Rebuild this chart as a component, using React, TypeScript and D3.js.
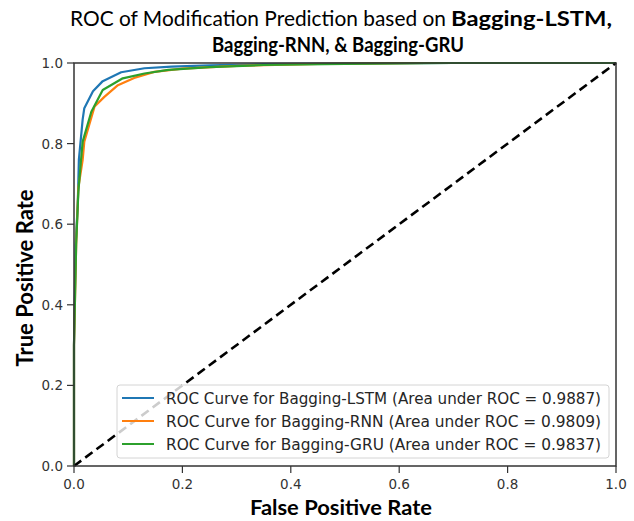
import * as d3 from 'd3'

const fprLstm = [0, 0, 0.003, 0.007, 0.009, 0.016, 0.019, 0.035, 0.053, 0.087, 0.13, 0.18, 0.25, 0.35, 0.5, 0.7, 1]
const tprLstm = [0, 0.3, 0.55, 0.65, 0.76, 0.86, 0.888, 0.93, 0.955, 0.977, 0.987, 0.991, 0.994, 0.997, 0.999, 1, 1]

const fprRnn = [0, 0, 0.004, 0.008, 0.016, 0.019, 0.038, 0.056, 0.081, 0.111, 0.148, 0.2, 0.3, 0.45, 0.65, 1]
const tprRnn = [0, 0.3, 0.55, 0.69, 0.76, 0.805, 0.892, 0.916, 0.945, 0.963, 0.978, 0.986, 0.993, 0.998, 1, 1]

const fprGru = [0, 0, 0.004, 0.008, 0.013, 0.016, 0.032, 0.053, 0.09, 0.13, 0.174, 0.25, 0.35, 0.5, 0.7, 1]
const tprGru = [0, 0.3, 0.55, 0.68, 0.76, 0.805, 0.879, 0.933, 0.962, 0.974, 0.983, 0.99, 0.995, 0.998, 1, 1]

const seriesNames = ['Bagging-LSTM', 'Bagging-RNN', 'Bagging-GRU']
const aucValues = ['0.9887', '0.9809', '0.9837']
const colors = ['#1f77b4', '#ff7f0e', '#2ca02c']
const ticks = [0, 0.2, 0.4, 0.6, 0.8, 1.0]

const W = 634
const H = 521
const left = 74
const right = 616
const top = 63
const bottom = 466

export default function App() {
    const x = d3.scaleLinear().domain([0, 1]).range([left, right])
    const y = d3.scaleLinear().domain([0, 1]).range([bottom, top])

    const line = d3
        .line<[number, number]>()
        .x(d => x(d[0]))
        .y(d => y(d[1]))

    const curves = [
        d3.zip(fprLstm, tprLstm),
        d3.zip(fprRnn, tprRnn),
        d3.zip(fprGru, tprGru)
    ] as [number, number][][]

    const tickFont = '"DejaVu Sans", sans-serif'
    const titleFont = 'Lato, "Open Sans", sans-serif'

    // legend box
    const lgX = 117
    const lgY = 385
    const lgW = 492
    const lgH = 73
    const rowY = (i: number) => 398 + i * 23

    return (
        <svg width={W} height={H} style={{ position: 'absolute', left: 0, top: 0 }}>
            <rect width={W} height={H} fill="#fff" />
            <text x={70} y={26} fontFamily={titleFont} fontSize={20.5} fill="#000" textLength={376} lengthAdjust="spacingAndGlyphs">
                ROC of Modification Prediction based on
            </text>
            <text x={451} y={26} fontFamily={titleFont} fontSize={20.5} fontWeight="bold" fill="#000" textLength={161} lengthAdjust="spacingAndGlyphs">
                Bagging-LSTM,
            </text>
            <text x={212} y={52} fontFamily={titleFont} fontSize={20.5} fontWeight="bold" fill="#000" textLength={252} lengthAdjust="spacingAndGlyphs">
                Bagging-RNN, &amp; Bagging-GRU
            </text>

            {curves.map((c, i) => (
                <path key={i} d={line(c) ?? ''} fill="none" stroke={colors[i]} strokeWidth={2.2} strokeLinejoin="round" />
            ))}
            <path
                d={line([[0, 0], [1, 1]]) ?? ''}
                stroke="#000"
                strokeWidth={2.6}
                strokeDasharray="9,5"
                fill="none"
            />

            {/* legend */}
            <rect x={lgX} y={lgY} width={lgW} height={lgH} rx={3} fill="#fff" fillOpacity={0.8} stroke="#d4d4d4" strokeWidth={1} />
            {seriesNames.map((name, i) => (
                <g key={name}>
                    <line x1={122} x2={154} y1={rowY(i)} y2={rowY(i)} stroke={colors[i]} strokeWidth={2} />
                    <text x={166} y={rowY(i) + 5.5} fontFamily={tickFont} fontSize={15} fill="#262626" textLength={435} lengthAdjust="spacingAndGlyphs">
                        {`ROC Curve for ${name} (Area under ROC = ${aucValues[i]})`}
                    </text>
                </g>
            ))}

            {/* frame */}
            <rect x={left} y={top} width={right - left} height={bottom - top} fill="none" stroke="#333" strokeWidth={1.5} />

            {ticks.map(t => (
                <g key={'x' + t}>
                    <line x1={x(t)} x2={x(t)} y1={bottom} y2={bottom + 7} stroke="#333" strokeWidth={1.2} />
                    <text x={x(t)} y={489} textAnchor="middle" fontFamily={tickFont} fontSize={13.5} fill="#333">
                        {t.toFixed(1)}
                    </text>
                </g>
            ))}
            {ticks.map(t => (
                <g key={'y' + t}>
                    <line x1={left - 7} x2={left} y1={y(t)} y2={y(t)} stroke="#333" strokeWidth={1.2} />
                    <text x={left - 11} y={y(t) + 5} textAnchor="end" fontFamily={tickFont} fontSize={13.5} fill="#333">
                        {t.toFixed(1)}
                    </text>
                </g>
            ))}

            <text x={341} y={515} textAnchor="middle" fontFamily={titleFont} fontSize={21} fontWeight="bold" fill="#000" textLength={182} lengthAdjust="spacingAndGlyphs">
                False Positive Rate
            </text>
            <text
                transform="translate(33, 278) rotate(-90)"
                textAnchor="middle"
                fontFamily={titleFont}
                fontSize={22}
                fontWeight="bold"
                fill="#000"
                textLength={177}
                lengthAdjust="spacingAndGlyphs"
            >
                True Positive Rate
            </text>
        </svg>
    )
}
